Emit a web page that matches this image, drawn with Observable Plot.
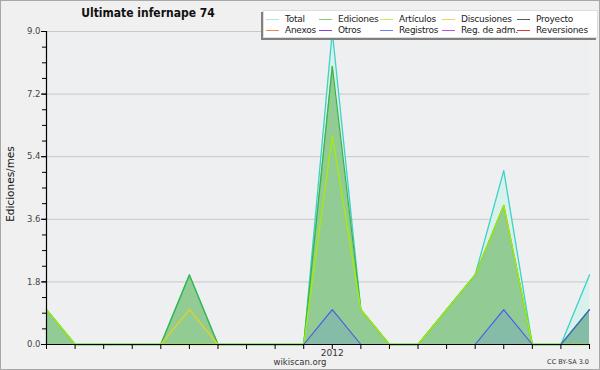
<!DOCTYPE html>
<html>
<head>
<meta charset="utf-8">
<script src="https://cdn.jsdelivr.net/npm/d3@7"></script>
<script src="https://cdn.jsdelivr.net/npm/@observablehq/plot@0.6"></script>
<style>
  body { margin: 0; background: #f0f0f0; }
  #chart { position: relative; width: 600px; height: 370px; background: #f0f0f0; font-family: "DejaVu Sans", sans-serif; overflow: hidden; }
  #chart svg { position: absolute; left: 0; top: 0; }
  .abs { position: absolute; white-space: nowrap; }
  #title { left: 48px; width: 200px; top: 5px; text-align: center; font-weight: bold; font-size: 12px; font-family: "DejaVu Sans Condensed", "DejaVu Sans", sans-serif; font-stretch: condensed; color: #111; line-height: 16px; }
  #ylab { left: 10px; top: 184px; transform: translate(-50%, -50%) rotate(-90deg); font-size: 10.5px; color: #111; }
  #site { left: 300px; top: 362px; transform: translate(-50%, -50%); font-size: 8.5px; color: #333; }
  #cc { left: 589px; top: 362px; transform: translate(-100%, -50%); font-size: 6.5px; color: #333; }
  #legend { left: 263px; top: 10px; width: 335px; height: 28px; background: #fff; box-shadow: -2px 2px 0 #808080; border: 1px solid #ddd; box-sizing: border-box; }
  .li { position: absolute; font-size: 9px; letter-spacing: -0.25px; color: #222; line-height: 11px; }
  .li span.sw { position: absolute; top: 5px; height: 1.3px; width: 13px; }
  #border { position: absolute; left: 0; top: 0; width: 600px; height: 370px; box-sizing: border-box; border: 1px solid #a8a8a8; pointer-events: none; }
</style>
</head>
<body>
<div id="chart">
  <div id="plot"></div>
  <div id="title" class="abs">Ultimate infernape 74</div>
  <div id="ylab" class="abs">Ediciones/mes</div>
  <div id="site" class="abs">wikiscan.org</div>
  <div id="cc" class="abs">CC BY-SA 3.0</div>
  <div id="legend" class="abs"></div>
  <div id="border"></div>
</div>
<script>
// ---- data ----
const months = ["2011-03","2011-04","2011-05","2011-06","2011-07","2011-08","2011-09","2011-10","2011-11","2011-12",
                "2012-01","2012-02","2012-03","2012-04","2012-05","2012-06","2012-07","2012-08","2012-09","2012-10"];
const total       = [1,0,0,0,0,2,0,0,0,0,9,1,0,0,1,2,5,0,0,2];
const ediciones   = [1,0,0,0,0,2,0,0,0,0,8,1,0,0,1,2,4,0,0,1];
const articulos   = [1,0,0,0,0,0,0,0,0,0,6,1,0,0,1,2,4,0,0,0];
const discusiones = [0,0,0,0,0,1,0,0,0,0,0,0,0,0,0,0,0,0,0,0];
const registros   = [0,0,0,0,0,0,0,0,0,0,1,0,0,0,0,0,1,0,0,1];
const yTicks = [0, 1.8, 3.6, 5.4, 7.2, 9.0];
const xLabels = {"2012-01": "2012"};
const legendNames = ["Total","Ediciones","Artículos","Discusiones","Proyecto","Anexos","Otros","Registros","Reg. de adm.","Reversiones"];
const legendColors = ["#a8e8e2","#84c884","#c4ee5c","#f2d060","#5a5a5a","#f08850","#8a3ee0","#7080f0","#c050e0","#e03838"];

const rows = months.map((m, i) => ({i, month: m, total: total[i], ediciones: ediciones[i], articulos: articulos[i], discusiones: discusiones[i], registros: registros[i]}));
const minorTicks = d3.range(0, 9.001, 0.45);
const idx = months.map((m, i) => i);

const chart = Plot.plot({
  width: 600, height: 370,
  marginLeft: 46, marginRight: 11, marginTop: 31, marginBottom: 26,
  style: {background: "transparent", fontFamily: "DejaVu Sans, sans-serif", fontSize: "9px", color: "#333"},
  x: {type: "linear", domain: [0, months.length - 1], label: null},
  y: {domain: [0, 9], label: null},
  marks: [
    Plot.frame({fill: "#eeeff1", stroke: null}),
    Plot.gridY(yTicks.filter(d => d > 0), {stroke: "#c8c8c8", strokeOpacity: 1}),
    Plot.areaY(rows, {x: "i", y: "total", fill: "#d8f1ec"}),
    Plot.areaY(rows, {x: "i", y: "ediciones", fill: "#92cb94"}),
    Plot.areaY(rows, {x: "i", y: "registros", fill: "#84bca8"}),
    Plot.lineY(rows, {x: "i", y: "total", stroke: "#3cd2c6", strokeWidth: 1.3}),
    Plot.lineY(rows, {x: "i", y: "ediciones", stroke: "#3cb446", strokeWidth: 1.3}),
    Plot.lineY(rows, {x: "i", y: "discusiones", stroke: "#e6d41c", strokeWidth: 1.2}),
    Plot.lineY(rows, {x: "i", y: "articulos", stroke: "#a6ec0a", strokeWidth: 1.3}),
    Plot.lineY(rows, {x: "i", y: "registros", stroke: "#4a56ec", strokeWidth: 1.1}),
    Plot.ruleY([0], {stroke: "#000", strokeWidth: 1.2}),
    Plot.ruleX([0], {stroke: "#000", strokeWidth: 1.2}),
    Plot.axisX({ticks: idx, tickFormat: i => xLabels[months[i]] || "", tickSize: 5, tickPadding: 0, fontSize: 9, fill: "#333", stroke: "#000", label: null}),
    Plot.axisY({ticks: minorTicks, tickFormat: () => "", tickSize: 4, stroke: "#000", label: null}),
    Plot.axisY({ticks: yTicks, tickFormat: d => d.toFixed(1), tickSize: 5, tickPadding: 1, fontSize: 8.5, fill: "#444", stroke: "#000", label: null})
  ]
});
document.getElementById("plot").appendChild(chart);

// legend
const legend = document.getElementById("legend");
const colX = [2, 55, 116, 178, 253];
legendNames.forEach((name, i) => {
  const r = Math.floor(i / 5), c = i % 5;
  const el = document.createElement("div");
  el.className = "li";
  el.style.left = colX[c] + "px";
  el.style.top = (3 + r * 11) + "px";
  el.style.paddingLeft = "19px";
  el.innerHTML = `<span class="sw" style="left:0;background:${legendColors[i]}"></span>${name}`;
  legend.appendChild(el);
});
</script>
</body>
</html>
